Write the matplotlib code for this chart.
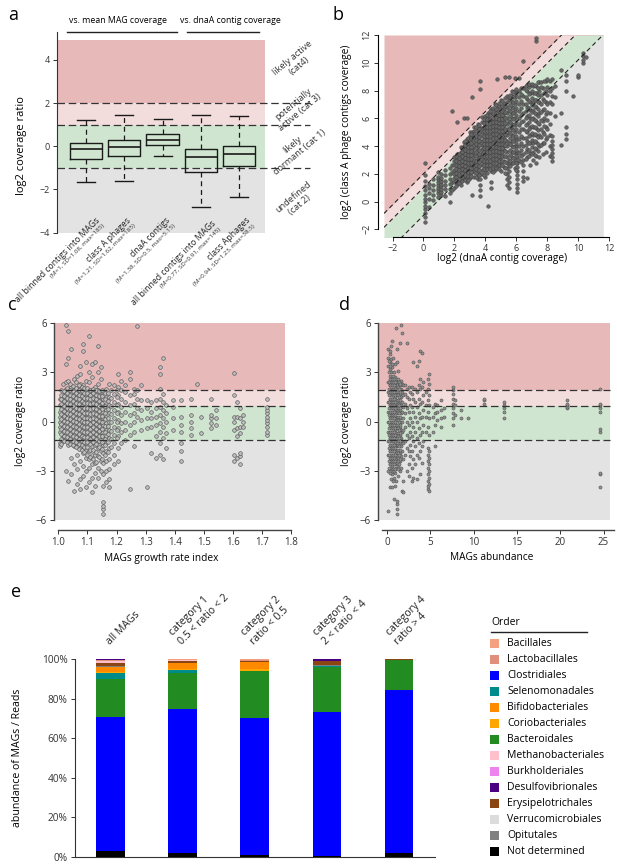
import matplotlib
matplotlib.use('Agg')
import matplotlib.pyplot as plt
import numpy as np
from matplotlib.patches import Rectangle

plt.rcParams['font.family'] = ['Open Sans', 'DejaVu Sans']

# ---------------- panel a: box statistics (log2 coverage ratio)
a_labels = ['all binned contigs into MAGs', 'class A phages', 'dnaA contigs',
            'all binned contigs into MAGs', 'class Aphages']
a_subs = ['(M=1, SD=1.08, max=185)', '(M=1.21, SD=1.62, max=185)',
          '(M=1.38, SD=0.5, max=5.15)', '(M=0.77, SD=0.91, max=145)',
          '(M=0.94, SD=1.23, max=38.5)']
a_whislo = [-1.65, -1.62, -0.43, -2.8, -2.34]
a_q1 = [-0.58, -0.46, 0.06, -1.2, -0.92]
a_med = [-0.15, -0.03, 0.31, -0.49, -0.34]
a_q3 = [0.15, 0.31, 0.55, -0.15, 0.0]
a_whishi = [1.23, 1.43, 1.28, 1.43, 1.38]
cat_names = ['likely active\n(cat4)', 'potentially\nactive (cat 3)',
             'likely\ndormant (cat 1)', 'undefined\n(cat 2)']
cat_levels = [3.9, 1.75, -0.1, -2.55]

# ---------------- panel b: dnaA contig coverage vs class A phage coverage (log2)
b_col_x = [0.08, 0.35, 0.6, 0.95, 1.15, 1.4, 1.7, 1.85, 2.0, 2.2, 2.4, 2.6, 2.8, 3.0,
           3.15, 3.3, 3.5, 3.65, 3.8, 4.0, 4.2, 4.4, 4.6, 4.75, 4.8, 5.0, 5.2, 5.3,
           5.4, 5.55, 5.7, 5.9, 6.05, 6.2, 6.45, 6.7, 6.9, 7.1, 7.3, 7.5, 7.7, 7.9,
           8.15, 8.3, 8.5, 8.9, 9.2, 9.7, 10.0, 10.3, 10.5]
b_col_y = [
    [-1.45, -1.1, -0.8, -0.5, -0.3, 0.0, 0.2, 0.5, 0.8, 1.1, 1.5, 1.9, 2.75],
    [-0.4, 0.2, 0.6, 1.0, 1.3],
    [0.1, 0.5, 0.8, 1.2, 1.6],
    [0.3, 0.6, 0.8, 1.0, 1.2, 1.4, 1.6, 1.8, 2.1],
    [0.5, 0.7, 0.9, 1.1, 1.3, 1.5, 1.7, 2.0],
    [0.4, 0.9, 1.2, 1.5, 1.9, 2.3],
    [0.0, 0.6, 0.9, 1.3, 1.6, 2.0, 2.4],
    [0.8, 1.4, 2.1, 2.6, 6.55],
    [1.0, 1.4, 1.7, 2.0, 2.3, 2.6, 2.9, 3.2],
    [1.3, 1.6, 1.9, 2.2, 2.5, 2.8, 3.1, 3.4, 5.7],
    [1.2, 1.5, 1.8, 2.1, 2.4, 2.7, 3.0, 3.3, 3.6, 3.9],
    [1.6, 1.9, 2.2, 2.5, 2.8, 3.1, 3.4, 3.7, 4.0, 4.3, 6.0],
    [1.4, 1.8, 2.1, 2.4, 2.7, 3.0, 3.3, 3.6, 3.9, 4.2, 4.5, 6.05],
    [1.7, 2.0, 2.3, 2.6, 2.9, 3.2, 3.5, 3.8, 4.1, 4.4, 4.7, 5.0],
    [0.45, 2.2, 2.6, 3.0, 3.4, 3.8, 4.2, 4.6, 5.0, 7.5],
    [1.8, 2.1, 2.4, 2.7, 3.0, 3.3, 3.6, 3.9, 4.2, 4.5, 4.8, 5.1, 5.4],
    [1.6, 1.9, 2.2, 2.5, 2.8, 3.1, 3.4, 3.7, 4.0, 4.3, 4.6, 4.9, 5.2, 5.6],
    [0.4, 0.8, 1.2, 1.6, 2.0, 3.3, 4.4, 5.3, 8.1, 8.7],
    [2.0, 2.3, 2.6, 2.9, 3.2, 3.5, 3.8, 4.1, 4.4, 4.7, 5.0, 5.3, 5.7, 6.1],
    [1.8, 2.2, 2.5, 2.8, 3.1, 3.4, 3.7, 4.0, 4.3, 4.6, 4.9, 5.2, 5.5, 5.8, 6.2],
    [-0.35, 2.4, 2.7, 3.0, 3.3, 3.6, 3.9, 4.2, 4.5, 4.8, 5.1, 5.4, 5.7, 6.0, 6.4],
    [1.0, 1.4, 2.2, 2.6, 2.9, 3.2, 3.5, 3.8, 4.1, 4.4, 4.7, 5.0, 5.3, 5.6, 5.9, 6.3, 6.7],
    [2.3, 2.6, 2.9, 3.2, 3.5, 3.8, 4.1, 4.4, 4.7, 5.0, 5.3, 5.6, 5.9, 6.2, 6.6, 7.0],
    [8.85],
    [2.5, 2.8, 3.1, 3.4, 3.7, 4.0, 4.3, 4.6, 4.9, 5.2, 5.5, 5.8, 6.1, 6.4, 6.8],
    [2.2, 2.6, 2.9, 3.2, 3.5, 3.8, 4.1, 4.4, 4.7, 5.0, 5.3, 5.6, 5.9, 6.2, 6.5, 6.9, 7.3],
    [2.5, 2.9, 3.3, 3.7, 4.0, 4.3, 4.6, 4.9, 5.2, 5.5, 5.8, 6.1, 6.4, 6.7, 7.1],
    [8.95],
    [1.2, 1.6, 2.0, 2.4, 2.8, 3.2, 3.6, 4.0, 4.4, 4.8, 5.2, 5.6, 6.0, 6.4, 6.8, 7.2, 7.6],
    [1.0, 1.4, 1.8, 2.2, 2.6, 3.0, 4.2, 5.0, 5.8, 6.6, 7.4, 8.95],
    [2.8, 3.2, 3.6, 4.0, 4.4, 4.8, 5.2, 5.6, 6.0, 6.4, 6.8, 7.2, 7.6, 8.0],
    [2.4, 3.0, 3.5, 4.0, 4.5, 5.0, 5.5, 6.0, 6.5, 7.0, 7.5, 8.0, 8.9],
    [0.7, 1.0, 1.3, 1.6, 1.9, 2.2, 2.5, 2.8, 3.2, 3.6, 4.0, 4.5],
    [3.0, 3.5, 4.0, 4.5, 5.0, 5.5, 6.0, 6.5, 7.0, 7.5, 8.0, 8.9],
    [1.5, 1.8, 2.2, 2.6, 3.0, 3.4, 4.0, 4.6, 5.2, 5.8, 6.4, 7.0, 7.6, 8.2, 10.1],
    [1.7, 3.2, 3.8, 4.4, 5.0, 5.6, 6.2, 6.8, 7.4, 8.0, 8.4],
    [2.6, 3.5, 4.2, 4.8, 5.4, 6.0, 6.6, 7.2, 7.8, 8.4],
    [3.0, 3.6, 4.2, 4.8, 5.4, 6.0, 6.6, 7.2, 7.8, 8.3],
    [2.8, 3.3, 3.8, 4.3, 4.8, 5.3, 5.8, 6.3, 6.8, 7.3, 7.8, 8.3, 11.6, 11.8],
    [3.2, 4.0, 4.8, 5.6, 6.4, 7.2, 8.0, 8.6],
    [3.4, 4.2, 5.0, 5.8, 6.6, 7.4, 8.2],
    [3.6, 4.5, 5.4, 6.3, 7.2, 8.0, 8.7],
    [3.3, 4.0, 4.8, 5.6, 6.4, 7.2, 8.0, 8.7],
    [2.9, 3.2, 3.5, 3.8, 4.1, 4.4, 4.7, 7.0, 7.6, 8.2, 8.8],
    [6.2, 7.5, 8.3],
    [4.1, 6.4, 9.5],
    [4.5, 4.9, 5.35, 8.0, 8.7, 9.1],
    [7.6],
    [9.0, 9.1],
    [10.0, 10.2, 10.5, 10.7],
    [10.4],
]
# points filling the dense core between the columns above
b_core_x = [2.1, 2.3, 2.5, 2.7, 2.9, 3.1, 3.4, 3.6, 3.9, 4.1, 4.3, 4.5, 4.7, 4.9, 5.1,
            5.3, 5.6, 5.8, 6.0, 6.3, 6.6, 6.8, 7.0, 7.2, 7.4, 7.6, 7.8, 8.0]
b_core_y = [
    [1.15, 1.45, 1.75, 2.05, 2.35, 2.65, 2.95, 3.25],
    [1.35, 1.65, 1.95, 2.25, 2.55, 2.85, 3.15, 3.45],
    [1.45, 1.75, 2.05, 2.35, 2.65, 2.95, 3.25, 3.55, 3.85],
    [1.55, 1.95, 2.25, 2.55, 2.85, 3.15, 3.45, 3.75, 4.05, 4.35],
    [1.55, 1.85, 2.15, 2.45, 2.75, 3.05, 3.35, 3.65, 3.95, 4.25, 4.55],
    [1.85, 2.15, 2.45, 2.75, 3.05, 3.35, 3.65, 3.95, 4.25, 4.55, 4.85],
    [1.75, 2.05, 2.35, 2.65, 2.95, 3.25, 3.55, 3.85, 4.15, 4.45, 4.75, 5.05, 5.35],
    [1.95, 2.25, 2.55, 2.85, 3.15, 3.45, 3.75, 4.05, 4.35, 4.65, 4.95, 5.25, 5.55],
    [1.95, 2.35, 2.65, 2.95, 3.25, 3.55, 3.85, 4.15, 4.45, 4.75, 5.05, 5.35, 5.65, 5.95],
    [2.05, 2.35, 2.65, 2.95, 3.25, 3.55, 3.85, 4.15, 4.45, 4.75, 5.05, 5.35, 5.65, 5.95, 6.25],
    [2.35, 2.65, 2.95, 3.25, 3.55, 3.85, 4.15, 4.45, 4.75, 5.05, 5.35, 5.65, 5.95, 6.25, 6.5],
    [2.15, 2.45, 2.75, 3.05, 3.35, 3.65, 3.95, 4.25, 4.55, 4.85, 5.15, 5.45, 5.75, 6.05, 6.35, 6.75],
    [2.45, 2.75, 3.05, 3.35, 3.65, 3.95, 4.25, 4.55, 4.85, 5.15, 5.45, 5.75, 6.05, 6.35, 6.65, 6.95],
    [2.35, 2.65, 2.95, 3.25, 3.55, 3.85, 4.15, 4.45, 4.75, 5.05, 5.35, 5.65, 5.95, 6.25, 6.55, 6.85, 7.1],
    [2.65, 2.95, 3.25, 3.55, 3.85, 4.15, 4.45, 4.75, 5.05, 5.35, 5.65, 5.95, 6.25, 6.55, 6.85, 7.25],
    [2.05, 2.45, 2.85, 3.25, 3.65, 4.05, 4.45, 4.85, 5.25, 5.65, 6.05, 6.45, 6.85, 7.45],
    [2.55, 2.95, 3.35, 3.75, 4.15, 4.55, 4.95, 5.35, 5.75, 6.15, 6.55, 6.95, 7.35, 7.7],
    [2.75, 3.15, 3.55, 3.95, 4.35, 4.75, 5.15, 5.55, 5.95, 6.35, 6.75, 7.15, 7.55, 7.9],
    [2.25, 2.75, 3.25, 3.75, 4.25, 4.75, 5.25, 5.75, 6.25, 6.75, 7.25, 7.75, 8.1],
    [2.85, 3.25, 3.75, 4.25, 4.75, 5.25, 5.75, 6.25, 6.75, 7.25, 7.75, 8.2],
    [3.05, 3.55, 4.05, 4.55, 5.05, 5.55, 6.05, 6.55, 7.05, 7.55, 8.05, 8.3],
    [3.25, 3.75, 4.25, 4.75, 5.25, 5.75, 6.25, 6.75, 7.25, 7.75, 8.25, 8.5],
    [3.45, 3.95, 4.45, 4.95, 5.45, 5.95, 6.45, 6.95, 7.45, 7.95, 8.45],
    [3.35, 3.85, 4.35, 4.85, 5.35, 5.85, 6.35, 6.85, 7.35, 7.85, 8.4],
    [3.65, 4.15, 4.65, 5.15, 5.65, 6.15, 6.65, 7.15, 7.65, 8.15, 8.6],
    [4.05, 4.65, 5.25, 5.85, 6.45, 7.05, 7.65, 8.25, 8.6],
    [4.25, 4.85, 5.45, 6.05, 6.65, 7.25, 7.85, 8.7],
    [4.65, 5.25, 5.85, 6.45, 7.05, 7.65, 8.25, 8.8],
]
b_slope = 1.12
b_offsets = [2.0, 1.0, -1.0]

# ---------------- panel c: growth rate index vs log2 coverage ratio
c_col_x = [1.005, 1.015, 1.025, 1.035, 1.045, 1.055, 1.065, 1.075, 1.085, 1.095, 1.105,
           1.115, 1.125, 1.135, 1.145, 1.155, 1.165, 1.175, 1.19, 1.205, 1.215, 1.23,
           1.245, 1.26, 1.27, 1.285, 1.305, 1.32, 1.335, 1.35, 1.36, 1.37, 1.395, 1.42,
           1.455, 1.475, 1.49, 1.525, 1.54, 1.605, 1.615, 1.625, 1.635, 1.715]
c_col_y = [
    [-1.5, -1.3, -0.6, -0.3, 0.0, 0.3, 0.6, 1.0, 1.4],
    [-1.2, -0.9, -0.6, -0.3, 0.0, 0.2, 0.4, 0.7, 1.0, 1.3, 1.6, 2.3],
    [-3.0, -1.0, -0.7, -0.4, -0.1, 0.2, 0.5, 0.8, 1.1, 1.4, 1.7, 2.0, 2.4, 3.5, 5.9],
    [-3.6, -1.4, -1.1, -0.8, -0.5, -0.2, 0.1, 0.4, 0.7, 1.0, 1.3, 1.6, 1.9, 2.5, 3.9, 5.5],
    [-3.2, -2.2, -1.2, -0.9, -0.6, -0.3, 0.0, 0.3, 0.6, 0.9, 1.2, 1.5, 1.8, 2.1, 4.4],
    [-4.2, -2.6, -1.5, -1.1, -0.8, -0.5, -0.2, 0.1, 0.4, 0.7, 1.0, 1.3, 1.6, 1.9, 2.6],
    [-3.8, -2.9, -2.0, -1.3, -1.0, -0.7, -0.4, -0.1, 0.2, 0.5, 0.8, 1.1, 1.4, 1.7, 2.0, 2.8],
    [-4.1, -3.5, -2.4, -1.6, -1.2, -0.9, -0.6, -0.3, 0.0, 0.3, 0.6, 0.9, 1.2, 1.5, 1.8, 2.3, 2.9, 3.4],
    [-3.3, -2.7, -1.9, -1.4, -1.1, -0.8, -0.5, -0.2, 0.1, 0.4, 0.7, 1.0, 1.3, 1.6, 1.9, 2.2, 4.3, 4.7],
    [-4.0, -3.0, -2.2, -1.7, -1.3, -1.0, -0.7, -0.4, -0.1, 0.2, 0.5, 0.8, 1.1, 1.4, 1.7, 2.0, 2.5, 3.6],
    [-3.7, -2.8, -2.3, -1.8, -1.2, -0.9, -0.6, -0.3, 0.0, 0.3, 0.6, 0.9, 1.2, 1.5, 1.8, 2.4, 3.0, 5.2],
    [-4.3, -3.4, -2.6, -2.0, -1.5, -1.1, -0.8, -0.5, -0.2, 0.1, 0.4, 0.7, 1.0, 1.3, 1.6, 1.9, 2.7, 3.5],
    [-3.9, -3.1, -2.5, -2.0, -1.4, -1.0, -0.7, -0.4, -0.1, 0.2, 0.5, 0.8, 1.1, 1.4, 1.7, 2.1, 3.6],
    [-3.4, -2.8, -2.1, -1.6, -1.2, -0.8, -0.5, -0.2, 0.1, 0.4, 0.7, 1.0, 1.3, 1.6, 1.9, 2.3, 3.0, 4.6],
    [-3.0, -2.4, -1.8, -1.3, -0.9, -0.6, -0.3, 0.0, 0.3, 0.6, 0.9, 1.2, 1.5, 1.8, 2.6, 3.3],
    [-5.6, -5.3, -5.1, -4.9, -3.9, -3.2, -2.5, -1.9, -1.4, -1.0, -0.6, -0.2, 0.2, 0.6, 1.0, 1.4, 1.8],
    [-3.7, -3.0, -2.4, -1.8, -1.3, -0.9, -0.5, -0.1, 0.3, 0.7, 1.1, 1.5, 2.0],
    [-4.0, -3.5, -2.9, -2.3, -1.6, -1.0, -0.5, 0.0, 0.5, 1.0, 1.5, 2.3],
    [-2.6, -2.0, -1.3, -0.8, -0.3, 0.2, 0.7, 1.2, 1.7, 2.2],
    [-2.4, -1.6, -0.9, -0.4, 0.1, 0.6, 1.1, 1.6, 2.1, 2.9],
    [-1.3, -0.6, -0.1, 0.4, 0.9, 1.4, 1.9, 2.5],
    [-1.1, -0.5, 0.0, 0.6, 1.2, 1.8, 2.2],
    [-4.1, -0.8, -0.2, 0.4, 1.0, 1.6, 2.6, 3.0],
    [-1.5, -0.6, 0.0, 0.5, 1.1, 1.7, 2.0],
    [0.3, 0.8, 1.4, 1.9, 5.8],
    [-0.5, 0.1, 0.7, 1.3, 2.2],
    [-4.0, -0.4, 0.2, 0.8, 1.3],
    [-1.9, -0.3, 0.2, 0.6, 1.2],
    [-2.2, -0.9, -0.2, 0.3, 0.8, 1.3],
    [-2.0, -1.3, -0.6, -0.1, 0.4, 0.9, 1.4, 2.0, 2.9, 3.3],
    [-2.3, -1.0, -0.3, 0.2, 0.7, 1.2, 1.7, 3.9],
    [-1.6, -0.7, 0.0, 0.5, 1.0],
    [-0.5, 0.2, 0.9, 1.3],
    [-2.4, -1.8, -1.3, -0.6, -0.2, 0.3, 1.3],
    [-0.8, -0.4, 0.0, 0.4, 1.4],
    [2.3],
    [-0.7, 0.3],
    [-0.4, -0.1, 0.2, 0.4, 1.4],
    [-0.2, 0.2, 0.7],
    [-2.4, -2.0, -0.5, 0.0, 0.3, 1.6, 2.95],
    [-2.2, -0.9, -0.4, 0.3, 1.2],
    [-2.6, -2.1, -1.9, -0.7, -0.3, 0.2, 0.8],
    [-0.3, 0.0, 0.4],
    [-0.8, -0.6, -0.3, -0.1, 0.1, 0.3, 0.5, 0.7, 0.9, 1.4],
]
c_core_x = [1.01, 1.02, 1.03, 1.04, 1.05, 1.06, 1.07, 1.08, 1.09, 1.10, 1.11, 1.12,
            1.13, 1.14, 1.15, 1.16, 1.17, 1.18, 1.20]
c_core_y = [
    [-1.35, -1.05, -0.75, -0.45, -0.15, 0.15, 0.45, 0.75, 1.05, 1.35, 1.65, 1.95],
    [-1.15, -0.85, -0.55, -0.25, 0.05, 0.35, 0.65, 0.95, 1.25, 1.55, 1.85],
    [-1.25, -0.95, -0.65, -0.35, -0.05, 0.25, 0.55, 0.85, 1.15, 1.45, 1.75, 2.05],
    [-1.35, -1.05, -0.75, -0.45, -0.15, 0.15, 0.45, 0.75, 1.05, 1.35, 1.65, 1.95, 2.3],
    [-1.45, -1.15, -0.85, -0.55, -0.25, 0.05, 0.35, 0.65, 0.95, 1.25, 1.55, 1.85, 2.15],
    [-1.55, -1.25, -0.95, -0.65, -0.35, -0.05, 0.25, 0.55, 0.85, 1.15, 1.45, 1.75, 2.05, 2.4],
    [-1.65, -1.35, -1.05, -0.75, -0.45, -0.15, 0.15, 0.45, 0.75, 1.05, 1.35, 1.65, 1.95, 2.25],
    [-1.75, -1.45, -1.15, -0.85, -0.55, -0.25, 0.05, 0.35, 0.65, 0.95, 1.25, 1.55, 1.85, 2.1],
    [-1.85, -1.55, -1.25, -0.95, -0.65, -0.35, -0.05, 0.25, 0.55, 0.85, 1.15, 1.45, 1.75, 2.05],
    [-2.05, -1.55, -1.25, -0.95, -0.65, -0.35, -0.05, 0.25, 0.55, 0.85, 1.15, 1.45, 1.75, 2.05],
    [-2.15, -1.75, -1.35, -1.05, -0.75, -0.45, -0.15, 0.15, 0.45, 0.75, 1.05, 1.35, 1.65, 1.95],
    [-2.25, -1.75, -1.25, -0.95, -0.65, -0.35, -0.05, 0.25, 0.55, 0.85, 1.15, 1.45, 1.75, 2.0],
    [-2.45, -1.85, -1.35, -1.05, -0.75, -0.45, -0.15, 0.15, 0.45, 0.75, 1.05, 1.35, 1.65, 1.95],
    [-2.15, -1.55, -1.15, -0.85, -0.55, -0.25, 0.05, 0.35, 0.65, 0.95, 1.25, 1.55, 1.85],
    [-2.25, -1.65, -1.25, -0.85, -0.45, -0.05, 0.35, 0.75, 1.15, 1.55, 1.95],
    [-2.05, -1.45, -1.05, -0.65, -0.25, 0.15, 0.55, 0.95, 1.35, 1.75],
    [-1.85, -1.25, -0.75, -0.25, 0.25, 0.75, 1.25, 1.75],
    [-1.55, -1.05, -0.55, -0.05, 0.45, 0.95, 1.45, 1.9],
    [-1.0, -0.5, 0.0, 0.5, 1.0, 1.5, 1.9],
]

# ---------------- panel d: MAG abundance vs log2 coverage ratio
d_col_x = [0.15, 0.3, 0.45, 0.6, 0.75, 0.9, 1.05, 1.15, 1.3, 1.45, 1.6, 1.75, 1.9, 2.1,
           2.3, 2.5, 2.7, 2.9, 3.05, 3.25, 3.45, 3.65, 3.85, 4.0, 4.2, 4.5, 4.75, 4.9,
           5.3, 5.5, 5.8, 6.2, 6.6, 7.65, 7.9, 8.5, 9.3, 11.2, 13.5, 20.8, 24.6]
d_col_y = [
    [-5.45, -3.0, -2.0, -1.2, -0.6, 0.0, 0.6, 1.2, 1.8, 2.4, 3.4, 3.9, 4.4],
    [-4.0, -2.6, -2.2, -1.8, -1.4, -1.0, -0.6, -0.2, 0.2, 0.6, 1.0, 1.4, 1.8, 2.2, 2.8, 3.2, 3.6, 4.1],
    [-3.5, -2.9, -2.4, -2.0, -1.6, -1.2, -0.8, -0.4, 0.0, 0.4, 0.8, 1.2, 1.6, 2.0, 2.4, 3.0, 3.8, 4.6],
    [-4.0, -3.2, -2.7, -2.2, -1.8, -1.4, -1.0, -0.6, -0.2, 0.2, 0.6, 1.0, 1.4, 1.8, 2.2, 2.6, 3.3, 4.9],
    [-4.7, -3.4, -2.9, -2.4, -2.0, -1.6, -1.2, -0.8, -0.4, 0.0, 0.4, 0.8, 1.2, 1.6, 2.0, 2.4, 3.0],
    [-3.9, -3.1, -2.6, -2.1, -1.7, -1.3, -0.9, -0.5, -0.1, 0.3, 0.7, 1.1, 1.5, 1.9, 2.3, 2.7, 3.5],
    [-3.6, -2.8, -2.3, -1.9, -1.5, -1.1, -0.7, -0.3, 0.1, 0.5, 0.9, 1.3, 1.7, 2.1, 2.5, 5.7],
    [-5.6, -5.3, -5.0, -4.8, -2.5, -2.0, -1.4, -0.9, -0.4, 0.2, 0.7, 1.2, 1.7, 2.2, 3.6, 4.4],
    [-3.3, -2.7, -2.2, -1.7, -1.2, -0.7, -0.2, 0.3, 0.8, 1.3, 1.8, 2.4, 3.1],
    [-3.0, -2.4, -1.9, -1.3, -0.8, -0.3, 0.2, 0.7, 1.2, 1.7, 2.2, 4.8],
    [-2.8, -2.1, -1.5, -1.0, -0.5, 0.0, 0.5, 1.0, 1.5, 2.0, 2.5, 5.9],
    [-4.2, -1.8, -1.2, -0.6, 0.0, 0.6, 1.2, 1.8, 2.3, 5.4],
    [-4.3, -3.6, -2.3, -1.3, -0.5, 0.2, 0.9, 1.6, 2.2],
    [-2.0, -1.2, -0.3, 0.5, 1.1, 1.7, 2.2],
    [-3.0, -1.6, -0.8, 0.0, 0.8, 1.5, 2.0, 4.8],
    [-3.3, -2.6, -1.8, -1.0, -0.2, 0.6, 1.4, 2.1],
    [-2.1, -1.4, -0.6, 0.2, 1.0, 1.8],
    [-3.6, -2.8, -1.8, -0.9, 0.0, 0.9, 1.7, 2.1],
    [-3.4, -2.3, -1.2, -0.3, 0.6, 1.4, 3.6],
    [-2.6, -1.5, -0.6, 0.3, 1.2, 2.0],
    [-3.5, -2.0, -1.0, 0.0, 0.9, 1.8, 3.4],
    [-2.2, -1.3, -0.4, 0.5, 1.4, 2.2, 3.7],
    [-3.2, -1.8, -0.8, 0.2, 1.1, 2.0, 2.6, 4.3],
    [-2.5, -1.5, -0.6, 0.3, 1.2, 2.1, 4.2],
    [-1.2, -0.2, 0.7, 1.6, 2.4],
    [-0.6, 0.3, 1.0, 1.8],
    [-4.1, -3.9, -3.6, -3.2, -2.8, -2.4, -2.0, -1.6, -0.3, 0.6, 1.3, 2.0, 2.6],
    [-4.2, -3.8, -3.4, -3.0, -2.6, -2.2, -1.8, -0.8, 0.2, 1.0, 1.6, 2.3, 2.9],
    [-0.6, 0.3, 0.9],
    [-1.5, -0.2, 0.5, 1.1],
    [0.1, 0.6, 1.0],
    [-0.3, 0.2, 0.7, 1.3],
    [0.3, 0.8],
    [-0.2, 0.2, 0.5, 0.8, 1.1, 1.4, 1.7, 1.9, 2.1],
    [0.4, 1.0, 1.3],
    [0.2, 0.7],
    [0.2],
    [1.1, 1.3, 1.4],
    [0.2, 0.6, 0.8, 1.0, 1.2],
    [0.8, 0.9, 1.0, 1.1, 1.3],
    [-4.0, -3.2, -3.1, -0.6, -0.45, 0.6, 0.8, 1.0, 1.1, 2.0],
]
d_core_x = [0.22, 0.37, 0.52, 0.67, 0.82, 0.97, 1.22, 1.37, 1.52]
d_core_y = [
    [-2.8, -2.4, -2.0, -1.6, -1.2, -0.8, -0.4, 0.0, 0.4, 0.8, 1.2, 1.6, 2.0, 2.4, 3.0, 3.7],
    [-3.1, -2.6, -2.2, -1.8, -1.4, -1.0, -0.6, -0.2, 0.2, 0.6, 1.0, 1.4, 1.8, 2.2, 2.6, 3.4, 4.3],
    [-3.0, -2.6, -2.2, -1.8, -1.4, -1.0, -0.6, -0.2, 0.2, 0.6, 1.0, 1.4, 1.8, 2.2, 2.6, 3.5],
    [-3.6, -2.9, -2.4, -2.0, -1.6, -1.2, -0.8, -0.4, 0.0, 0.4, 0.8, 1.2, 1.6, 2.0, 2.4, 2.8, 3.9],
    [-3.0, -2.6, -2.2, -1.8, -1.4, -1.0, -0.6, -0.2, 0.2, 0.6, 1.0, 1.4, 1.8, 2.2, 2.6],
    [-2.9, -2.4, -2.0, -1.6, -1.2, -0.8, -0.4, 0.0, 0.4, 0.8, 1.2, 1.6, 2.0, 2.4],
    [-2.9, -2.4, -1.9, -1.4, -0.9, -0.4, 0.1, 0.6, 1.1, 1.6, 2.1, 2.6],
    [-2.6, -2.0, -1.5, -1.0, -0.5, 0.0, 0.5, 1.0, 1.5, 2.0, 2.4],
    [-2.3, -1.7, -1.2, -0.7, -0.2, 0.3, 0.8, 1.3, 1.8, 2.3],
]
cd_levels = [1.95, 0.95, -1.1]

# ---------------- panel e: order composition (% of reads)
e_groups = ['all MAGs', 'category 1\n0.5 < ratio < 2', 'category 2\nratio < 0.5',
            'category 3\n2 < ratio < 4', 'category 4\nratio > 4']
# stacked from bottom to top
e_orders = ['Not determined', 'Clostridiales', 'Bacteroidales', 'Selenomonadales',
            'Coriobacteriales', 'Bifidobacteriales', 'Opitutales', 'Verrucomicrobiales',
            'Erysipelotrichales', 'Burkholderiales', 'Methanobacteriales',
            'Lactobacillales', 'Bacillales', 'Desulfovibrionales']
e_values = [
    [2.9, 1.8, 0.8, 0.5, 1.8],
    [67.9, 72.8, 69.2, 72.9, 82.5],
    [18.9, 18.2, 23.8, 22.6, 15.0],
    [3.0, 1.8, 0.3, 0.4, 0.0],
    [0.6, 0.5, 1.0, 0.1, 0.1],
    [2.8, 2.7, 3.2, 0.2, 0.2],
    [0.2, 0.1, 0.1, 0.1, 0.0],
    [0.3, 0.3, 0.2, 0.1, 0.0],
    [1.2, 0.6, 0.3, 2.0, 0.4],
    [0.2, 0.1, 0.1, 0.0, 0.0],
    [1.2, 0.6, 0.2, 0.1, 0.0],
    [0.2, 0.2, 0.5, 0.1, 0.0],
    [0.2, 0.2, 0.3, 0.0, 0.0],
    [0.4, 0.1, 0.0, 0.8, 0.0],
]
legend_order = ['Bacillales', 'Lactobacillales', 'Clostridiales', 'Selenomonadales',
                'Bifidobacteriales', 'Coriobacteriales', 'Bacteroidales',
                'Methanobacteriales', 'Burkholderiales', 'Desulfovibrionales',
                'Erysipelotrichales', 'Verrucomicrobiales', 'Opitutales', 'Not determined']
order_colors = {
    'Bacillales': '#f5a07e', 'Lactobacillales': '#e0907a', 'Clostridiales': '#0000ff',
    'Selenomonadales': '#008b8b', 'Bifidobacteriales': '#ff8a00',
    'Coriobacteriales': '#ffa500', 'Bacteroidales': '#228b22',
    'Methanobacteriales': '#ffc0cb', 'Burkholderiales': '#ee82ee',
    'Desulfovibrionales': '#4b0082', 'Erysipelotrichales': '#8b4513',
    'Verrucomicrobiales': '#dcdcdc', 'Opitutales': '#808080', 'Not determined': '#000000',
}

# region colours
RED = '#e7b9b9'
PINK = '#f3dcdc'
GREEN = '#cfe5cf'
GRAY = '#e3e3e3'
DASH = (0, (6, 3))

W, H = 617, 865
fig = plt.figure(figsize=(W / 100, H / 100), dpi=100)


def add_ax(l, t, r, b):
    return fig.add_axes([l / W, 1 - b / H, (r - l) / W, (b - t) / H])


def columns(xs, ys):
    px = np.concatenate([[x] * len(y) for x, y in zip(xs, ys)])
    py = np.concatenate([np.array(y, float) for y in ys])
    return px, py


def style_ticks(ax, size):
    ax.tick_params(length=3, width=0.7, labelsize=size, colors='#333333', pad=2)


# overlay axes in pixel coordinates for free text
ov = fig.add_axes([0, 0, 1, 1], zorder=10)
ov.set_xlim(0, W)
ov.set_ylim(H, 0)
ov.axis('off')

# ================= a
ax = add_ax(57, 31.7, 265, 232.7)
ax.set_xlim(0.24, 5.68)
ax.set_ylim(-4, 5.3)
ax.axhspan(-4, -1, color=GRAY, lw=0)
ax.axhspan(-1, 1, color=GREEN, lw=0)
ax.axhspan(1, 2, color=PINK, lw=0)
ax.axhspan(2, 4.9, color=RED, lw=0)
for lev in [2, 1, -1]:
    ax.plot([0.24, 6.86], [lev, lev], color='#333333', lw=0.9, ls=DASH, clip_on=False)
stats = [dict(med=m, q1=q1, q3=q3, whislo=lo, whishi=hi, fliers=[])
         for m, q1, q3, lo, hi in zip(a_med, a_q1, a_q3, a_whislo, a_whishi)]
pos = np.arange(1, len(stats) + 1)
ax.bxp(stats, positions=pos, widths=0.84, capwidths=0.47, showfliers=False,
       boxprops=dict(color='#1a1a1a', lw=1.0),
       whiskerprops=dict(color='#1a1a1a', lw=0.9, ls=(0, (4, 3))),
       capprops=dict(color='#1a1a1a', lw=1.0),
       medianprops=dict(color='#1a1a1a', lw=1.2))
for s in ['top', 'right', 'bottom']:
    ax.spines[s].set_visible(False)
ax.spines['left'].set_color('#333333')
ax.set_yticks([-4, -2, 0, 2, 4])
ax.set_xticks([])
style_ticks(ax, 6.5)
label_dx = [0.36, 0.17, 0.22, 0.40, 0.31]
label_y = [-3.45, -3.45, -3.45, -3.6, -3.45]
for p, dx, ly, lab, sub in zip(pos, label_dx, label_y, a_labels, a_subs):
    ax.text(p + dx, ly, lab, rotation=45, rotation_mode='anchor', ha='right',
            va='baseline', fontsize=6.2, color='#222222', clip_on=False)
    ax.text(p + dx + 0.05, ly - 0.12, sub, rotation=45, rotation_mode='anchor', ha='right',
            va='top', fontsize=4.5, color='#333333', clip_on=False)
for name, lev in zip(cat_names, cat_levels):
    ax.text(6.5, lev, name, rotation=40, ha='center', va='center', fontsize=6.6,
            color='#333333', multialignment='center', clip_on=False)
ov.text(21.7, 146, 'log2 coverage ratio', rotation=90, ha='center', va='center', fontsize=8)
ov.text(118, 20.7, 'vs. mean MAG coverage', ha='center', va='center', fontsize=6.3)
ov.text(230, 20.7, 'vs. dnaA contig coverage', ha='center', va='center', fontsize=6.3)
ov.plot([66.7, 177.3], [32.3, 32.3], color='#222222', lw=1)
ov.plot([186.7, 259.3], [32.3, 32.3], color='#222222', lw=1)

# ================= b
ax = add_ax(384, 35, 610.6, 236.7)
ax.set_xlim(-2.55, 12.1)
ax.set_ylim(-2.53, 12)
xs = np.array([-2.55, 11.63])
l1, l2, l3 = [b_slope * xs + c for c in b_offsets]
ax.fill_between(xs, -2.53, l3, color=GRAY, lw=0)
ax.fill_between(xs, l3, l2, color=GREEN, lw=0)
ax.fill_between(xs, l2, l1, color=PINK, lw=0)
ax.fill_between(xs, l1, 12, color=RED, lw=0)
bx, by = columns(b_col_x + b_core_x, b_col_y + b_core_y)
ax.scatter(bx, by, s=7, c='#666666', edgecolors='#3a3a3a', linewidths=0.3, zorder=3)
for line in (l1, l2, l3):
    ax.plot(xs, line, color='#222222', lw=0.8, ls=(0, (4, 3)), zorder=4)
for s in ['top', 'right']:
    ax.spines[s].set_visible(False)
ax.spines['left'].set_position(('outward', 4))
ax.spines['left'].set_bounds(-2, 12)
ax.spines['bottom'].set_bounds(-2, 12)
ax.set_xticks(range(-2, 13, 2))
ax.set_yticks(range(-2, 13, 2))
style_ticks(ax, 6.5)
for t in ax.get_yticklabels():
    t.set_rotation(90)
    t.set_va('center')
ov.text(347, 131.7, 'log2 (class A phage contigs coverage)', rotation=90,
        ha='center', va='center', fontsize=7.3)
ov.text(501.7, 259, 'log2 (dnaA contig coverage)', ha='center', va='center', fontsize=7.3)


# ================= c and d
def ratio_panel(ax, xlim, x_end, px, py, marker_kw):
    ax.set_xlim(*xlim)
    ax.set_ylim(-6, 6)
    frac = (x_end - xlim[0]) / (xlim[1] - xlim[0])
    ax.axhspan(-6, cd_levels[2], xmax=frac, color=GRAY, lw=0)
    ax.axhspan(cd_levels[2], cd_levels[1], xmax=frac, color=GREEN, lw=0)
    ax.axhspan(cd_levels[1], cd_levels[0], xmax=frac, color=PINK, lw=0)
    ax.axhspan(cd_levels[0], 6, xmax=frac, color=RED, lw=0)
    ax.scatter(px, py, zorder=3, **marker_kw)
    for lev in cd_levels:
        ax.plot([xlim[0], x_end], [lev, lev], color='#333333', lw=0.9, ls=DASH, zorder=4)
    for s in ['top', 'right']:
        ax.spines[s].set_visible(False)
    ax.spines['left'].set_bounds(-6, 6)
    ax.spines['left'].set_color('#444444')
    ax.spines['left'].set_linewidth(1.0)
    ax.spines['bottom'].set_position(('outward', 7))
    ax.spines['bottom'].set_color('#444444')
    ax.spines['bottom'].set_linewidth(1.0)
    ax.set_yticks([-6, -3, 0, 3, 6])
    style_ticks(ax, 7)


ax = add_ax(53.9, 323, 291.3, 520.3)
cx, cy = columns(c_col_x + c_core_x, c_col_y + c_core_y)
ratio_panel(ax, (0.985, 1.8), 1.78, cx, cy,
            dict(s=7, facecolors='#bdbdbd', edgecolors='#555555', linewidths=0.45))
ax.spines['bottom'].set_bounds(1.0, 1.8)
ax.set_xticks(np.arange(1.0, 1.81, 0.1))
ax.set_xticklabels(['%.1f' % v for v in np.arange(1.0, 1.81, 0.1)])
ov.text(20.5, 421, 'log2 coverage ratio', rotation=90, ha='center', va='center', fontsize=7.3)
ov.text(161, 558, 'MAGs growth rate index', ha='center', va='center', fontsize=7.3)

ax = add_ax(378, 323, 614, 520.3)
dx_, dy_ = columns(d_col_x + d_core_x, d_col_y + d_core_y)
ratio_panel(ax, (-1.04, 26.2), 25.7, dx_, dy_,
            dict(s=5, facecolors='#909090', edgecolors='#4a4a4a', linewidths=0.35))
ax.spines['bottom'].set_bounds(-0.6, 26.2)
ax.set_xticks([0, 5, 10, 15, 20, 25])
ov.text(346, 421, 'log2 coverage ratio', rotation=90, ha='center', va='center', fontsize=7.3)
ov.text(492, 558, 'MAGs abundance', ha='center', va='center', fontsize=7.3)

# ================= e
ax = add_ax(74.8, 659, 435, 856.7)
ax.set_xlim(-0.5, 4.5)
ax.set_ylim(0, 100)
xpos = np.arange(len(e_groups))
bottom = np.zeros(len(e_groups))
for name, vals in zip(e_orders, e_values):
    ax.bar(xpos, vals, width=0.4, bottom=bottom, color=order_colors[name], lw=0)
    bottom += np.array(vals)
for s in ['top', 'right']:
    ax.spines[s].set_visible(False)
for s in ['left', 'bottom']:
    ax.spines[s].set_color('#333333')
ax.set_xticks([])
ax.set_yticks(range(0, 101, 20))
ax.set_yticklabels(['%d%%' % v for v in range(0, 101, 20)])
style_ticks(ax, 7.3)
for i, g in enumerate(e_groups):
    ax.text(i + 0.02, 106, g, rotation=45, rotation_mode='anchor', ha='left', va='bottom',
            fontsize=7.6, color='#222222', multialignment='left', clip_on=False)
ov.text(17.7, 758, 'abundance of MAGs / Reads', rotation=90, ha='center', va='center',
        fontsize=7.6)

# legend
ov.text(491, 622.7, 'Order', ha='left', va='center', fontsize=7.5)
ov.plot([491, 587], [631.7, 631.7], color='#222222', lw=1)
for i, name in enumerate(legend_order):
    yc = 643.3 + 16.03 * i
    ov.add_patch(Rectangle((490, yc - 4.5), 9, 9, color=order_colors[name], lw=0))
    ov.text(507, yc, name, ha='left', va='center', fontsize=7.5)

# panel letters
for letter, (x, y) in zip('abcde', [(13, 15), (338, 15), (12, 305), (344, 305), (15.7, 591.7)]):
    ov.text(x, y, letter, ha='center', va='center', fontsize=13)

fig.savefig('out.png', dpi=100)
